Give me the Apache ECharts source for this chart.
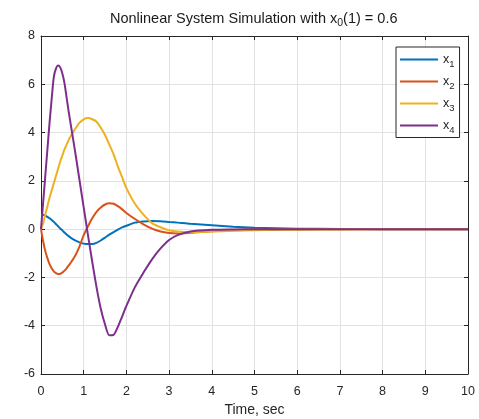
<!DOCTYPE html>
<html>
<head>
<meta charset="utf-8">
<script src="https://cdn.jsdelivr.net/npm/echarts@6/dist/echarts.min.js"></script>
<style>
  html, body { margin: 0; padding: 0; background: #fff; }
  #chart { width: 479px; height: 419px; }
</style>
</head>
<body>
<div id="chart"></div>
<script>
// time samples, sec
const time = [0, 0.05, 0.1, 0.15, 0.2, 0.25, 0.3, 0.35, 0.4, 0.45, 0.5, 0.55, 0.6, 0.65, 0.7,
  0.8, 0.9, 1.0, 1.1, 1.2, 1.3, 1.4, 1.5, 1.6, 1.7, 1.8, 1.9, 2.0,
  2.2, 2.4, 2.6, 2.8, 3.0, 3.2, 3.5, 4.0, 4.5, 5.0, 5.5, 6.0, 7.0, 8.0, 9.0, 10.0];

const x1 = [0.6, 0.59, 0.56, 0.51, 0.45, 0.38, 0.3, 0.21, 0.12, 0.03, -0.05, -0.14, -0.22, -0.29, -0.36,
  -0.47, -0.55, -0.6, -0.62, -0.62, -0.57, -0.47, -0.35, -0.23, -0.12, -0.02, 0.07, 0.14,
  0.27, 0.32, 0.34, 0.33, 0.3, 0.27, 0.22, 0.16, 0.1, 0.06, 0.04, 0.02, 0.01, 0, 0, 0];

const x2 = [0, -0.5, -0.9, -1.2, -1.45, -1.62, -1.75, -1.82, -1.86, -1.85, -1.8, -1.72, -1.62, -1.5, -1.38,
  -1.1, -0.72, -0.25, 0.12, 0.45, 0.72, 0.9, 1.02, 1.07, 1.05, 0.95, 0.82, 0.67,
  0.42, 0.2, 0.02, -0.1, -0.16, -0.18, -0.15, -0.09, -0.05, -0.03, -0.02, -0.01, 0, 0, 0, 0];

const x3 = [0, 0.25, 0.6, 0.95, 1.3, 1.6, 1.9, 2.2, 2.5, 2.8, 3.05, 3.3, 3.5, 3.7, 3.87,
  4.15, 4.4, 4.55, 4.6, 4.55, 4.45, 4.2, 3.9, 3.5, 3.1, 2.6, 2.15, 1.7,
  1.05, 0.6, 0.25, 0.08, -0.05, -0.1, -0.13, -0.1, -0.07, -0.05, -0.03, -0.02, -0.01, 0, 0, 0];

const x4 = [0, 1.1, 2.2, 3.3, 4.4, 5.4, 6.3, 6.65, 6.78, 6.7, 6.45, 6.05, 5.45, 4.85, 4.3,
  3.2, 2.05, 0.9, -0.25, -1.35, -2.4, -3.3, -3.95, -4.4, -4.38, -4.05, -3.62, -3.18,
  -2.4, -1.8, -1.25, -0.8, -0.45, -0.25, -0.1, -0.03, -0.01, 0, 0, 0, 0, 0, 0, 0];

const seriesNames = ['x1', 'x2', 'x3', 'x4'];
const seriesColors = ['#0072BD', '#D95319', '#EDB120', '#7E2F8E'];
const xTicks = { min: 0, max: 10, interval: 1 };
const yTicks = { min: -6, max: 8, interval: 2 };

const ink = '#262626';
const font = 'Liberation Sans, Arial, sans-serif';

function axisBase(show, margin) {
  return {
    axisLine: { show: true, onZero: false, lineStyle: { color: ink, width: 1 } },
    axisTick: { show: true, inside: true, length: 4, lineStyle: { color: ink } },
    axisLabel: { show: show, color: ink, fontSize: 12.5, fontFamily: font, margin: margin },
    splitLine: { show: show, lineStyle: { color: '#e2e2e2', width: 1 } }
  };
}

const chart = echarts.init(document.getElementById('chart'), null, { renderer: 'canvas' });

chart.setOption({
  animation: false,
  backgroundColor: '#fff',
  title: {
    text: 'Nonlinear System Simulation with x{s|0}(1) = 0.6',
    left: 110,
    top: 8,
    padding: 0,
    textStyle: {
      fontFamily: font,
      fontWeight: 'normal',
      fontSize: 14.5,
      color: '#1a1a1a',
      rich: {
        s: { fontFamily: font, fontSize: 10.5, color: '#1a1a1a', padding: [10, 0, 0, 0] }
      }
    }
  },
  legend: {
    orient: 'vertical',
    left: 396,
    top: 47,
    padding: [6, 5, 2, 4],
    itemGap: 5.5,
    itemWidth: 38,
    itemHeight: 2,
    icon: 'rect',
    borderColor: ink,
    borderWidth: 1,
    borderRadius: 0,
    backgroundColor: '#fff',
    data: seriesNames,
    formatter: name => '{x|x}{s|' + name.slice(1) + '}',
    textStyle: {
      color: ink,
      rich: {
        x: { fontFamily: font, fontSize: 12.5, color: ink },
        s: { fontFamily: font, fontSize: 9.5, color: ink, padding: [10, 0, 0, 0] }
      }
    }
  },
  grid: { left: 41, right: 11, top: 36, bottom: 45, outerBoundsMode: 'none' },
  xAxis: [
    Object.assign({
      type: 'value',
      position: 'bottom',
      name: 'Time, sec',
      nameLocation: 'middle',
      nameGap: 29,
      nameTextStyle: { color: ink, fontSize: 14, fontFamily: font }
    }, xTicks, axisBase(true, 11)),
    Object.assign({ type: 'value', position: 'top' }, xTicks, axisBase(false, 8))
  ],
  yAxis: [
    Object.assign({ type: 'value', position: 'left' }, yTicks, axisBase(true, 6)),
    Object.assign({ type: 'value', position: 'right' }, yTicks, axisBase(false, 8))
  ],
  series: [x1, x2, x3, x4].map((vals, i) => ({
    name: seriesNames[i],
    type: 'line',
    symbol: 'none',
    smooth: 0.25,
    data: time.map((t, k) => [t, vals[k]]),
    lineStyle: { width: 2, color: seriesColors[i] },
    itemStyle: { color: seriesColors[i] }
  }))
});
</script>
</body>
</html>
